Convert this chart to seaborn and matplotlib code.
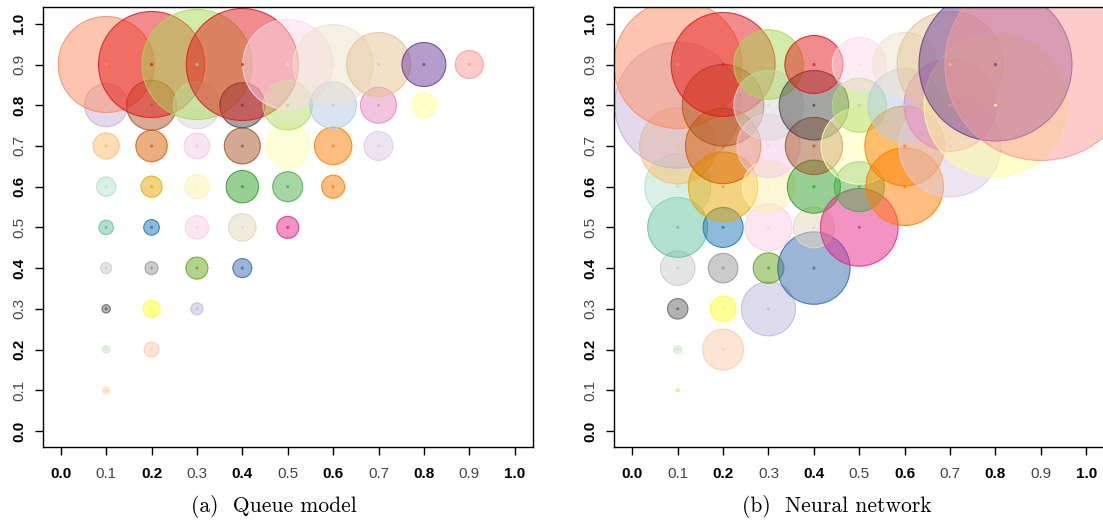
import numpy as np
import pandas as pd
import matplotlib
matplotlib.use("Agg")
import matplotlib.pyplot as plt
import seaborn as sns
from matplotlib.colors import to_rgba

# Grid levels: each cell sits at (x, y) with y >= x
levels = [0.1, 0.2, 0.3, 0.4, 0.5, 0.6, 0.7, 0.8, 0.9]

# Bubble radii, listed column by column (x ascending, y ascending from x to 0.9)
queue_radius = [
    3.3, 3.6, 4.2, 5.5, 7.2, 9.7, 13.0, 21.5, 48.0,
    7.5, 8.5, 6.5, 7.8, 10.5, 15.7, 25.0, 53.0,
    6.0, 11.0, 11.7, 12.0, 12.8, 23.5, 55.0,
    9.5, 13.8, 16.2, 18.0, 22.5, 56.0,
    11.0, 15.0, 22.3, 24.7, 45.0,
    11.5, 18.7, 23.3, 40.0,
    14.5, 18.0, 32.0,
    12.5, 22.0,
    14.0,
]
nn_radius = [
    1.5, 4.0, 10.2, 17.3, 30.0, 33.0, 38.0, 63.0, 64.0,
    20.4, 12.8, 14.8, 20.0, 34.7, 37.7, 40.8, 52.0,
    27.0, 15.3, 23.5, 26.0, 31.6, 34.7, 34.7,
    36.2, 20.4, 26.5, 28.6, 34.7, 29.0,
    38.8, 25.0, 38.2, 27.0, 27.0,
    38.8, 39.8, 36.7, 32.0,
    51.0, 46.0, 53.0,
    71.4, 76.5,
    96.0,
]
cell_colors = [
    "#FED9A6", "#CCEBC5", "#666666", "#CCCCCC", "#66C2A5", "#B3E2CD", "#FDBF6F", "#CAB2D6", "#FC8D62",
    "#FDCDAC", "#FFFF33", "#999999", "#1F78B4", "#E6AB02", "#D95F02", "#B15928", "#E41A1C",
    "#BEBADA", "#66A61E", "#FCCDE5", "#FFF2AE", "#F4CAE4", "#D9D9D9", "#A6D854",
    "#386CB0", "#E5D8BD", "#33A02C", "#A65628", "#4D4D4D", "#E31A1C",
    "#E7298A", "#4DAF4A", "#FFFFB3", "#B3DE69", "#FDDAEC",
    "#FF7F00", "#FF7F00", "#B3CDE3", "#F1E2CC",
    "#DECBE4", "#E78AC3", "#E5C494",
    "#FFFF99", "#6A3D9A",
    "#FB9A99",
]
tick_values = [0.0, 0.1, 0.2, 0.3, 0.4, 0.5, 0.6, 0.7, 0.8, 0.9, 1.0]
tick_labels = ["0.0", "0.1", "0.2", "0.3", "0.4", "0.5", "0.6", "0.7", "0.8", "0.9", "1.0"]
captions = ["(a)  Queue model", "(b)  Neural network"]

# Cell coordinates in the same column-by-column order
cell_x, cell_y = [], []
for i, xv in enumerate(levels):
    for yv in levels[i:]:
        cell_x.append(xv)
        cell_y.append(yv)

DPI = 100
PT_PER_PX = 72.0 / DPI
area_max = max(max(queue_radius), max(nn_radius)) ** 2
size_max = (2 * PT_PER_PX) ** 2 * area_max

fig = plt.figure(figsize=(11.03, 5.24), dpi=DPI)
ax_w, ax_h, ax_b = 0.4445, 0.8393, 0.1464
axes = [fig.add_axes([0.0386, ax_b, ax_w, ax_h]),
        fig.add_axes([0.5568, ax_b, ax_w, ax_h])]

for ax, radius in zip(axes, [queue_radius, nn_radius]):
    df = pd.DataFrame({
        "x": cell_x,
        "y": cell_y,
        "cell": [f"{a:.1f}/{b:.1f}" for a, b in zip(cell_x, cell_y)],
        "area": np.asarray(radius) ** 2,
    })
    palette = dict(zip(df["cell"], cell_colors))
    sns.scatterplot(data=df, x="x", y="y", hue="cell", palette=palette,
                    size="area", sizes=(0, size_max), size_norm=(0, area_max),
                    legend=False, linewidth=0.8, ax=ax)
    circles = ax.collections[-1]
    circles.set_facecolors([to_rgba(c, 0.5) for c in cell_colors])
    circles.set_edgecolors([to_rgba(c, 0.85) for c in cell_colors])
    circles.set_linewidths(0.8)

    # small centre marks
    sns.scatterplot(data=df, x="x", y="y", hue="cell", palette=palette,
                    s=5, linewidth=0, legend=False, ax=ax)
    dots = ax.collections[-1]
    dots.set_facecolors([to_rgba(c, 0.8) for c in cell_colors])

    ax.set_xlim(-0.04, 1.04)
    ax.set_ylim(-0.04, 1.04)
    ax.set_xlabel("")
    ax.set_ylabel("")
    ax.set_xticks(tick_values)
    ax.set_yticks(tick_values)
    ax.set_xticklabels(tick_labels, fontfamily="Liberation Sans", fontsize=11)
    ax.set_yticklabels(tick_labels, fontfamily="Liberation Sans", fontsize=11,
                       rotation=90, va="center")
    ax.tick_params(axis="x", length=6, width=1.0, pad=8.0)
    ax.tick_params(axis="y", length=6, width=1.0, pad=6.0)
    for axis in (ax.xaxis, ax.yaxis):
        labels = axis.get_ticklabels()
        ticks = axis.get_major_ticks()
        for k, (lab, tk) in enumerate(zip(labels, ticks)):
            if k % 2 == 0:
                lab.set_fontweight("bold")
                lab.set_color("#000000")
                tk.tick1line.set_color("#000000")
            else:
                lab.set_fontweight("normal")
                lab.set_color("#444444")
                tk.tick1line.set_color("#666666")
    for sp in ax.spines.values():
        sp.set_visible(True)
        sp.set_linewidth(1.0)
        sp.set_color("#000000")
    ax.set_facecolor("white")

fig.text(274 / 1103, 1 - 507 / 524, captions[0], fontfamily="cmr10",
         fontsize=15.5, ha="center", va="center")
fig.text(836.7 / 1103, 1 - 507 / 524, captions[1], fontfamily="cmr10",
         fontsize=15.5, ha="center", va="center")

fig.savefig("out.png", dpi=DPI, facecolor="white")
